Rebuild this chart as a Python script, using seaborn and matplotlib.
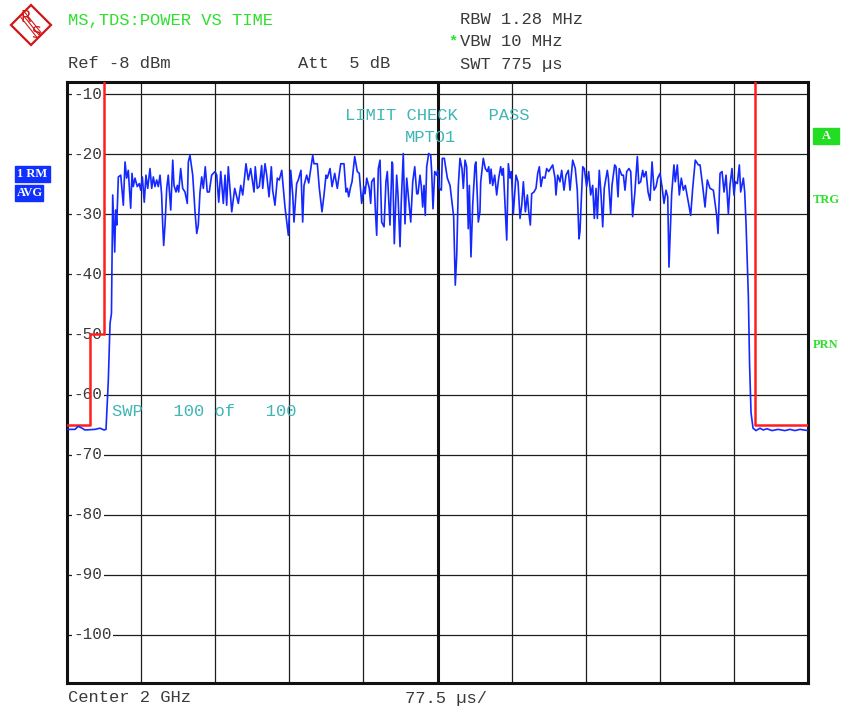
import numpy as np
import pandas as pd
import seaborn as sns
import matplotlib.pyplot as plt
from matplotlib.patches import Polygon, Rectangle

# sweep trace, time in us, level in dBm
trace_t = [0, 8.4, 11.5, 14.6, 18.8, 29.3, 34.5, 38.7, 40.8, 43.2, 45.0, 46.5, 47.8, 49.9, 50.9, 52.0,
           53.7, 56.2, 58.9, 60.7, 62.4, 64.1, 66.6, 68.0, 69.3, 71.1, 73.5, 75.6, 77.1, 78.8, 80.8, 82.6,
           84.4, 86.8, 88.6, 90.3, 92.0, 93.8, 95.5, 97.3, 99.0, 100.1, 101.1, 102.5, 104.3, 105.9, 108.5,
           110.6, 111.9, 114.0, 115.4, 116.8, 118.9, 121.0, 123.4, 125.8, 126.9, 128.6, 131.5, 133.9, 135.7,
           137.3, 139.1, 140.9, 142.6, 144.6, 146.7, 148.8, 151.3, 154.8, 156.6, 158.7, 160.8, 163.5, 165.3,
           167.0, 168.7, 172.3, 175.4, 179.2, 181.7, 183.8, 187.2, 189.6, 192.1, 195.6, 196.9, 199.0, 201.1,
           203.6, 204.7, 207.1, 208.9, 211.3, 213.7, 215.1, 217.5, 220.0, 222.0, 224.6, 228.0, 231.5, 232.5,
           234.0, 236.1, 237.4, 240.2, 241.9, 244.7, 246.5, 247.9, 250.7, 252.8, 257.0, 258.3, 261.8, 263.9,
           266.7, 268.8, 270.9, 272.2, 275.1, 277.2, 280.0, 282.7, 286.3, 289.7, 291.8, 293.2, 294.6, 296.7,
           298.1, 300.9, 303.6, 305.7, 308.2, 310.6, 311.7, 313.5, 316.2, 317.6, 318.7, 321.1, 322.5, 323.9,
           325.6, 327.4, 329.1, 331.6, 333.6, 335.0, 337.8, 339.9, 340.6, 342.3, 344.8, 346.2, 348.3, 349.6,
           351.7, 353.5, 355.3, 357.4, 359.5, 361.6, 363.7, 365.8, 367.1, 369.2, 370.6, 372.0, 373.4, 374.7,
           376.2, 378.3, 380.4, 381.4, 382.8, 384.6, 386.7, 387.7, 389.4, 391.5, 392.5, 394.6, 397.8, 400.6,
           402.7, 404.4, 406.1, 407.6, 409.3, 411.0, 413.1, 414.5, 416.3, 418.0, 419.7, 420.8, 422.5, 424.3,
           426.7, 427.7, 430.2, 431.9, 432.7, 435.4, 437.5, 439.6, 441.1, 442.4, 443.5, 445.2, 447.3, 449.4,
           451.5, 453.6, 455.0, 456.3, 459.9, 461.6, 463.3, 464.7, 466.8, 469.6, 471.7, 473.8, 475.6, 477.3,
           479.4, 481.5, 482.9, 484.6, 486.0, 488.4, 490.5, 492.3, 494.0, 495.7, 497.5, 499.9, 501.7, 503.8,
           508.0, 510.4, 511.4, 513.2, 515.6, 517.4, 519.8, 521.9, 524.3, 526.1, 528.9, 531.6, 533.7, 535.5,
           536.5, 539.4, 541.0, 543.5, 545.6, 547.7, 549.8, 551.5, 553.3, 554.7, 556.7, 558.5, 560.3, 561.9,
           563.7, 565.1, 566.2, 568.6, 570.0, 572.8, 574.2, 576.3, 577.6, 580.2, 581.9, 583.6, 585.4, 587.8,
           589.6, 591.6, 593.8, 596.5, 598.0, 600.0, 602.1, 603.5, 605.6, 607.7, 609.8, 611.9, 614.0, 616.1,
           617.8, 620.2, 622.3, 624.4, 626.5, 628.3, 629.6, 630.7, 632.4, 634.8, 636.2, 638.3, 640.4, 642.5,
           644.6, 646.7, 649.5, 652.3, 654.4, 657.1, 660.3, 662.1, 664.9, 667.3, 669.7, 672.5, 676.0, 679.5,
           680.9, 683.0, 685.1, 687.2, 689.3, 691.7, 693.4, 695.5, 697.6, 699.0, 701.1, 703.2, 704.6, 707.4,
           708.8, 710.2, 712.6, 713.9, 715.4, 717.5, 720.6, 724.8, 728.0, 732.1, 737.3, 743.6, 750.9, 756.2,
           761.4, 766.6, 775.0]
trace_db = [-65.8, -65.8, -65.3, -65.5, -65.9, -65.8, -65.6, -65.9, -65.8, -57.7, -48.2, -46.5, -26.8, -36.3, -29.3, -31.8,
            -23.8, -23.5, -28.5, -21.3, -24.0, -22.7, -29.0, -23.2, -25.4, -24.0, -25.4, -24.9, -26.0, -23.8, -28.0, -23.5,
            -25.7, -22.4, -25.7, -23.8, -25.4, -24.3, -25.4, -23.5, -26.8, -31.8, -35.2, -31.8, -25.7, -23.5, -29.3,
            -21.0, -25.2, -26.3, -25.2, -26.3, -22.4, -25.7, -26.3, -28.2, -21.3, -20.2, -23.5, -29.6, -33.2,
            -31.8, -26.3, -23.8, -25.7, -22.1, -26.3, -26.3, -23.5, -22.9, -23.5, -28.0, -22.9, -28.2, -23.5,
            -28.5, -22.1, -29.6, -25.7, -28.2, -25.2, -26.8, -21.6, -24.3, -22.4, -26.3, -22.1, -25.7, -25.4,
            -21.9, -25.7, -21.6, -23.5, -27.1, -22.1, -26.0, -28.5, -24.0, -24.3, -22.7, -28.8, -33.5, -30.2,
            -22.7, -26.8, -31.3, -24.9, -24.3, -22.7, -31.3, -25.2, -23.5, -24.8, -20.2, -21.6, -21.6, -25.7,
            -29.6, -26.8, -23.5, -24.0, -22.4, -25.4, -23.2, -25.7, -21.6, -21.6, -26.3, -25.7, -27.1, -25.4,
            -24.6, -20.4, -22.9, -23.2, -28.2, -25.4, -26.6, -24.0, -25.7, -28.2, -24.6, -24.0, -29.3, -33.5,
            -22.4, -21.0, -31.3, -32.1, -24.6, -22.9, -31.8, -21.3, -21.6, -34.9, -23.5, -26.8, -35.4, -28.0,
            -19.9, -31.6, -24.0, -27.7, -31.3, -24.6, -22.1, -26.6, -26.6, -23.5, -25.4, -28.8, -25.2, -30.2,
            -22.1, -19.9, -20.2, -22.9, -29.1, -22.9, -23.5, -22.7, -25.7, -26.0, -20.7, -20.7, -24.0, -25.2,
            -28.0, -30.4, -41.8, -36.8, -25.2, -20.7, -22.4, -25.7, -21.0, -22.1, -32.4, -25.2, -37.1, -28.5,
            -21.8, -21.3, -31.3, -29.6, -24.6, -20.7, -22.4, -22.9, -22.1, -24.9, -22.5, -25.2, -23.5, -26.8,
            -24.0, -22.1, -23.5, -22.4, -34.3, -21.6, -24.0, -22.9, -29.9, -23.5, -24.6, -30.7, -28.5, -24.6,
            -29.6, -26.8, -29.6, -31.8, -26.6, -26.3, -25.7, -23.2, -22.1, -25.4, -23.8, -24.0, -22.4, -22.9,
            -21.8, -24.0, -26.8, -23.5, -24.6, -22.7, -26.0, -23.5, -22.7, -26.0, -21.0, -22.4, -26.0, -34.1,
            -32.9, -22.1, -22.4, -25.4, -22.9, -26.8, -25.2, -30.7, -25.7, -30.7, -22.7, -26.6, -32.1, -25.7,
            -24.0, -22.7, -24.0, -29.9, -25.2, -21.8, -22.1, -27.1, -22.4, -23.5, -23.5, -26.0, -22.9, -22.4,
            -22.9, -30.4, -26.6, -20.4, -24.9, -24.6, -22.7, -23.8, -22.9, -26.3, -27.7, -21.3, -26.0, -25.4,
            -24.0, -23.2, -25.4, -28.2, -26.0, -27.1, -38.8, -33.8, -26.6, -21.8, -24.6, -21.8, -26.8, -24.0,
            -26.0, -25.2, -27.7, -30.2, -25.7, -21.0, -21.8, -21.8, -25.4, -28.8, -24.3, -25.7, -26.0, -30.2,
            -33.2, -23.2, -22.9, -26.3, -23.5, -29.9, -25.2, -22.4, -26.8, -24.6, -24.9, -21.8, -26.3, -24.0,
            -26.3, -31.6, -43.5, -55.0, -63.0, -65.6, -66.0, -65.6, -65.9, -65.7, -66.0, -65.8, -66.0, -65.8,
            -66.0, -65.8, -66.0]

# limit line MPTO1 (steps)
limit_t = [0, 24.0, 39.2, 719.7, 775.0]
limit_db = [-65.0, -50.0, 0.0, -65.0, -65.0]

level_ticks = [-10, -20, -30, -40, -50, -60, -70, -80, -90, -100]
level_labels = ['-10', '-20', '-30', '-40', '-50', '-60', '-70', '-80', '-90', '-100']

W, H = 846, 708
GREEN = '#2ee02e'
TEAL = '#3fb5b5'
GREY = '#3a3a3a'
BLUE = '#1428ff'
RED = '#ff1e1e'
LOGO = '#d01818'

sns.set_style("white")
plt.rcParams['font.family'] = ['Liberation Mono', 'DejaVu Sans Mono']

fig = plt.figure(figsize=(W / 100, H / 100), dpi=100)
ax = fig.add_axes([67 / W, 1 - 683 / H, (808 - 67) / W, (683 - 82) / H])

df = pd.DataFrame({'t': trace_t, 'level': trace_db})
lim = pd.DataFrame({'t': limit_t, 'level': limit_db})

sns.lineplot(data=lim, x='t', y='level', ax=ax, color=RED, lw=1.8, estimator=None, sort=False,
             drawstyle='steps-post', zorder=3)
sns.lineplot(data=df, x='t', y='level', ax=ax, color=BLUE, lw=1.2, estimator=None, sort=False, zorder=4)

ax.set_xlim(0, 775)
ax.set_ylim(-108, -8)
ax.set_xticks(np.arange(0, 776, 77.5))
ax.set_yticks(level_ticks)
ax.set_xticklabels([])
ax.set_yticklabels([])
ax.tick_params(length=0)
ax.set_xlabel('')
ax.set_ylabel('')
ax.grid(True, color='#1e1e1e', lw=0.9)
ax.axvline(387.5, color='#111111', lw=2.2, zorder=2)
for s in ax.spines.values():
    s.set_color('#111111')
    s.set_linewidth(2.2)

# level labels sit on the grid lines, blanking them out
for v, lab in zip(level_ticks, level_labels):
    ax.text(0.009, v, lab, transform=ax.get_yaxis_transform(),
            fontsize=11.5, color=GREY, va='center', ha='left',
            bbox=dict(boxstyle='square,pad=0.08', fc='white', ec='none'), zorder=2.5)


def ftext(x, y, s, **kw):
    fig.text(x / W, 1 - y / H, s, va='center', ha='left', **kw)


ftext(68, 20, 'MS,TDS:POWER VS TIME', fontsize=12.3, color=GREEN)
ftext(68, 64, 'Ref -8 dBm', fontsize=12.3, color=GREY)
ftext(298, 64, 'Att  5 dB', fontsize=12.3, color=GREY)
ftext(460, 20, 'RBW 1.28 MHz', fontsize=12.3, color=GREY)
ftext(448, 41, '*', fontsize=11, color=GREEN, fontweight='bold')
ftext(460, 42, 'VBW 10 MHz', fontsize=12.3, color=GREY)
ftext(460, 64, 'SWT 775 \u00b5s', fontsize=12.3, color=GREY)
ftext(345, 115, 'LIMIT CHECK   PASS', fontsize=12.3, color=TEAL)
ftext(405, 137, 'MPTO1', fontsize=12.3, color=TEAL)
ftext(112, 411, 'SWP   100 of   100', fontsize=12.3, color=TEAL)
ftext(68, 698, 'Center 2 GHz', fontsize=12.3, color=GREY)
ftext(405, 698, '77.5 \u00b5s/', fontsize=12.3, color=GREY)

# side annotations
fig.patches.append(Rectangle((15 / W, 1 - 182 / H), 35 / W, 16 / H, transform=fig.transFigure,
                             color='#1030ff', zorder=1))
fig.patches.append(Rectangle((15 / W, 1 - 201 / H), 28 / W, 16 / H, transform=fig.transFigure,
                             color='#1030ff', zorder=1))
ftext(17, 174, '1 RM', fontsize=9, color='white', fontweight='bold', family='Liberation Serif')
ftext(17, 193, 'AVG', fontsize=9, color='white', fontweight='bold', family='Liberation Serif')
fig.patches.append(Rectangle((813 / W, 1 - 144 / H), 26 / W, 16 / H, transform=fig.transFigure,
                             color='#22dd22', zorder=1))
ftext(822, 136, 'A', fontsize=9, color='white', fontweight='bold', family='Liberation Serif')
ftext(813, 200, 'TRG', fontsize=9, color=GREEN, fontweight='bold', family='Liberation Serif')
ftext(813, 345, 'PRN', fontsize=9, color=GREEN, fontweight='bold', family='Liberation Serif')

# R&S logo
cx, cy, r = 31, 25, 20
pts = [(cx / W, 1 - (cy - r) / H), ((cx + r) / W, 1 - cy / H),
       (cx / W, 1 - (cy + r) / H), ((cx - r) / W, 1 - cy / H)]
fig.patches.append(Polygon(pts, closed=True, fill=False, ec=LOGO, lw=1.6, transform=fig.transFigure))
for d in (-2.2, 0, 2.2):
    fig.lines.append(plt.Line2D([(cx - 8 + d) / W, (cx + 8 + d) / W],
                                [1 - (cy - 10 - d) / H, 1 - (cy + 10 - d) / H],
                                color=LOGO, lw=0.8, transform=fig.transFigure))
fig.text(26 / W, 1 - 18 / H, 'R', fontsize=11, color=LOGO, family='DejaVu Sans', ha='center', va='center')
fig.text(37 / W, 1 - 33 / H, 'S', fontsize=11, color=LOGO, family='DejaVu Sans', ha='center', va='center')

fig.savefig('out.png', dpi=100)
